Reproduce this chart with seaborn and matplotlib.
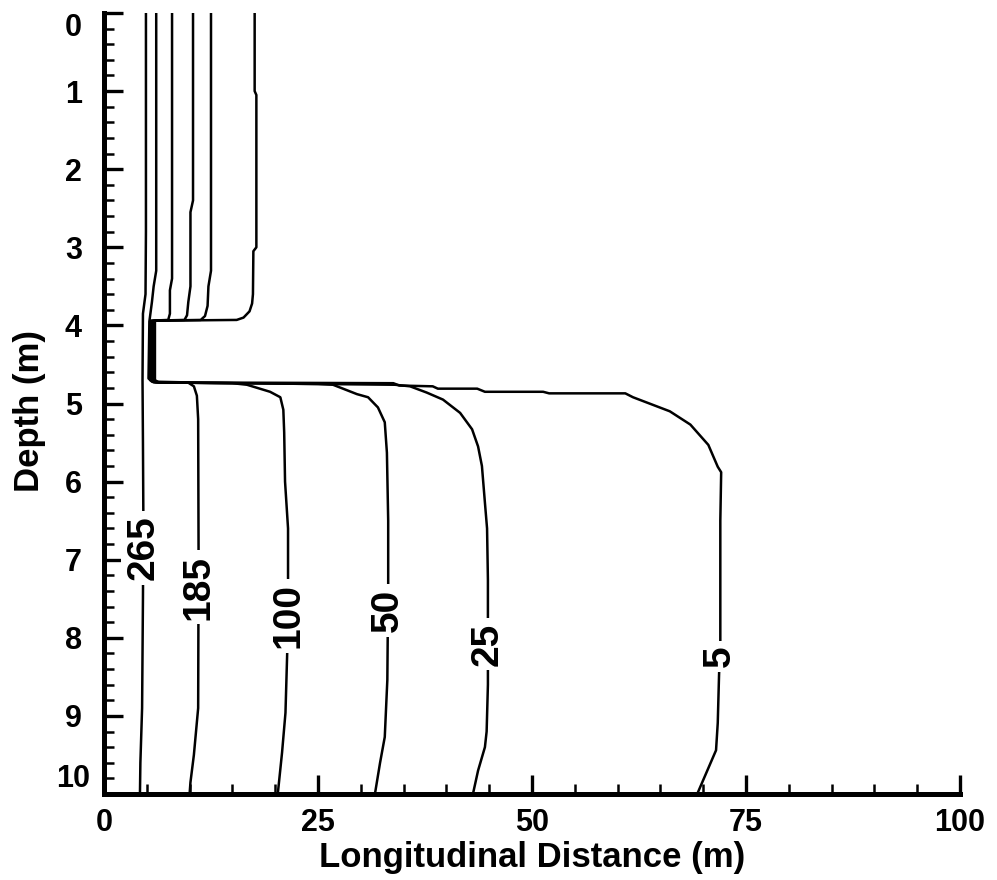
import matplotlib
matplotlib.use("Agg")
import matplotlib.pyplot as plt
import seaborn as sns
import pandas as pd
from matplotlib.ticker import MultipleLocator

# ---------------- data ----------------
levels = ["265", "185", "100", "50", "25", "5"]

x_265 = [4.9, 4.9, 4.85, 4.55, 4.5, 4.55, 4.6, 4.55, 4.45, 4.25, 4.2]
d_265 = [0.0, 2.8, 3.6, 3.85, 4.7, 5.5, 6.5, 7.5, 8.9, 9.6, 10.0]

x_185 = [6.1, 6.1, 5.8, 5.6, 5.3, 5.2, 5.6, 9.8, 10.5, 10.85, 11.0, 11.05, 11.0, 10.5, 10.1, 10.0]
d_185 = [0.0, 3.3, 3.5, 3.7, 3.95, 4.68, 4.72, 4.73, 4.78, 4.9, 5.2, 7.0, 8.9, 9.5, 9.85, 10.0]

x_100 = [7.95, 7.95, 7.7, 7.7, 7.5, 5.4, 5.4, 5.8, 15.0, 16.7, 19.4, 20.6, 20.95, 21.05,
         21.15, 21.5, 21.5, 21.4, 21.2, 20.8, 20.3]
d_100 = [0.0, 3.4, 3.55, 3.85, 3.93, 3.94, 4.7, 4.73, 4.74, 4.76, 4.85, 4.92, 5.08, 5.37,
         6.0, 6.6, 7.25, 8.2, 8.96, 9.47, 10.0]

x_50 = [10.4, 10.4, 10.1, 10.1, 9.85, 9.7, 9.4, 5.6, 5.6, 6.0, 25.0, 26.75, 28.15, 29.55,
        30.85, 32.0, 32.8, 33.05, 33.2, 33.2, 33.1, 32.8, 32.25, 31.65]
d_50 = [0.0, 2.4, 2.55, 3.5, 3.7, 3.87, 3.93, 3.94, 4.7, 4.73, 4.75, 4.76, 4.82, 4.88,
        4.92, 5.05, 5.24, 5.63, 6.5, 7.3, 8.54, 9.27, 9.6, 10.0]

x_25 = [12.5, 12.5, 12.2, 12.1, 11.8, 11.3, 5.8, 5.8, 6.2, 34.0, 35.75, 37.7, 39.6, 41.6,
        43.0, 43.7, 44.15, 44.5, 44.75, 44.85, 44.85, 44.7, 44.5, 43.7, 43.1]
d_25 = [0.0, 3.3, 3.5, 3.75, 3.88, 3.93, 3.94, 4.7, 4.73, 4.76, 4.78, 4.86, 4.95, 5.12,
        5.33, 5.55, 5.8, 6.27, 6.6, 7.26, 8.6, 9.2, 9.4, 9.7, 10.0]

x_5 = [17.6, 17.6, 17.8, 17.8, 17.45, 17.4, 17.3, 17.0, 16.3, 15.5, 5.95, 5.95, 6.4, 33.8,
       34.5, 38.4, 39.0, 43.6, 44.5, 51.3, 52.0, 60.9, 61.8, 66.1, 68.5, 70.6, 71.7, 72.1,
       72.0, 72.0, 71.85, 71.7, 71.5, 69.3]
d_5 = [0.0, 1.0, 1.05, 3.0, 3.05, 3.6, 3.72, 3.82, 3.9, 3.93, 3.94, 4.7, 4.73, 4.74,
       4.77, 4.78, 4.81, 4.81, 4.85, 4.85, 4.87, 4.87, 4.92, 5.1, 5.27, 5.53, 5.81, 5.88,
       6.5, 8.03, 8.48, 9.09, 9.44, 10.0]

label_x = [4.6, 11.05, 21.5, 33.2, 44.85, 71.9]
label_d = [6.85, 7.35, 7.72, 7.65, 8.08, 8.24]

xticks = [0, 25, 50, 75, 100]
yticks = [0, 1, 2, 3, 4, 5, 6, 7, 8, 9, 10]

# ---------------- build long-form table ----------------
paths = {"265": (x_265, d_265), "185": (x_185, d_185), "100": (x_100, d_100),
         "50": (x_50, d_50), "25": (x_25, d_25), "5": (x_5, d_5)}
rows = []
for lev in levels:
    xs, ds = paths[lev]
    for i, (xv, dv) in enumerate(zip(xs, ds)):
        rows.append({"level": lev, "order": i, "x": xv, "depth": dv})
df = pd.DataFrame(rows)

# ---------------- style ----------------
sns.set_theme(style="ticks")
plt.rcParams["font.family"] = ["Liberation Sans", "DejaVu Sans"]
plt.rcParams["font.weight"] = "bold"
plt.rcParams["axes.labelweight"] = "bold"

fig = plt.figure(figsize=(9.97, 8.8), dpi=100)
ax = fig.add_axes([104 / 997, (880 - 794) / 880, (960 - 104) / 997, (794 - 13) / 880])

sns.lineplot(data=df, x="x", y="depth", units="level", estimator=None, sort=False,
             color="black", linewidth=1.8, legend=False, ax=ax)

for lev, lx, ld in zip(levels, label_x, label_d):
    ax.text(lx, ld, lev, rotation=90, ha="center", va="center", rotation_mode="anchor",
            fontsize=28, fontweight="bold", color="black",
            bbox=dict(boxstyle="square,pad=0.12", facecolor="white", edgecolor="none"),
            zorder=3)

ax.set_xlim(0, 100)
ax.set_ylim(10, 0)
ax.set_xticks(xticks)
ax.set_yticks(yticks)
ax.set_xticklabels([str(t) for t in xticks])
ax.set_yticklabels([str(t) for t in yticks])
ax.xaxis.set_minor_locator(MultipleLocator(5))
ax.yaxis.set_minor_locator(MultipleLocator(0.2))

ax.tick_params(which="major", direction="in", length=14, width=2.4, color="black",
               labelsize=22, labelcolor="black")
ax.tick_params(which="minor", direction="in", length=7, width=1.8, color="black")
ax.tick_params(axis="x", which="major", pad=10)
ax.tick_params(axis="y", which="major", pad=22)
ax.tick_params(top=False, right=False, which="both")

for s in ["top", "right"]:
    ax.spines[s].set_visible(False)
for s in ["left", "bottom"]:
    ax.spines[s].set_linewidth(3.6)
    ax.spines[s].set_color("black")

ylabs = ax.get_yticklabels()
for lab in ylabs:
    lab.set_horizontalalignment("center")
    lab.set_fontweight("bold")
ylabs[0].set_verticalalignment("top")
ylabs[-1].set_verticalalignment("bottom")
for lab in ax.get_xticklabels():
    lab.set_fontweight("bold")

ax.set_xlabel("Longitudinal Distance (m)", fontsize=25, fontweight="bold", color="black")
ax.set_ylabel("Depth (m)", fontsize=25, fontweight="bold", color="black")
ax.xaxis.set_label_coords(0.5, -0.06)
ax.yaxis.set_label_coords(-0.068, 0.49)
ax.grid(False)
ax.set_facecolor("white")
fig.patch.set_facecolor("white")

fig.savefig("out.png", dpi=100, facecolor="white")
